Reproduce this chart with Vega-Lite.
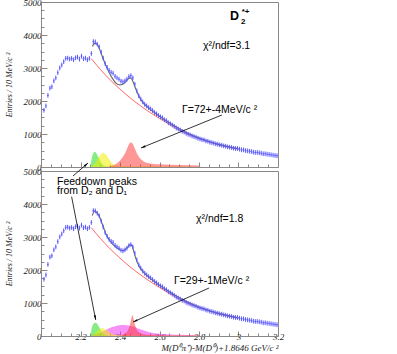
{
  "$schema": "https://vega.github.io/schema/vega-lite/v6.json",
  "background": "white",
  "padding": {"left": 4, "top": -3, "right": 0, "bottom": 0},
  "bounds": "flush",
  "spacing": 4,
  "config": {
    "view": {"stroke": "#888", "strokeWidth": 1},
    "axis": {"grid": false, "labelOverlap": false, "labelFont": "Liberation Serif", "labelFontStyle": "italic", "labelFontSize": 9, "labelColor": "#222", "tickColor": "#888", "domainColor": "#888", "titleFont": "Liberation Serif", "titleFontStyle": "italic", "titleFontWeight": "normal", "titleFontSize": 8, "titleColor": "#222"}
  },
  "datasets": {
    "hist": [
      {"m":2.015,"v":1720},{"m":2.025,"v":1850},{"m":2.035,"v":2170},{"m":2.045,"v":2390},{"m":2.055,"v":2430},{"m":2.065,"v":2610},{"m":2.075,"v":2700},{"m":2.085,"v":2860},{"m":2.095,"v":3000},{"m":2.105,"v":3090},
      {"m":2.115,"v":3190},{"m":2.125,"v":3290},{"m":2.135,"v":3300},{"m":2.145,"v":3270},{"m":2.155,"v":3290},{"m":2.165,"v":3250},{"m":2.175,"v":3310},{"m":2.185,"v":3330},{"m":2.195,"v":3270},{"m":2.205,"v":3360},
      {"m":2.215,"v":3280},{"m":2.225,"v":3300},{"m":2.235,"v":3250},{"m":2.245,"v":3290},{"m":2.255,"v":3440},{"m":2.265,"v":3800},{"m":2.275,"v":3790},{"m":2.285,"v":3720},{"m":2.295,"v":3640},{"m":2.305,"v":3480},
      {"m":2.315,"v":3300},{"m":2.325,"v":3130},{"m":2.335,"v":3020},{"m":2.345,"v":2930},{"m":2.355,"v":2870},{"m":2.365,"v":2840},{"m":2.375,"v":2750},{"m":2.385,"v":2700},{"m":2.395,"v":2660},{"m":2.405,"v":2600},
      {"m":2.415,"v":2580},{"m":2.425,"v":2610},{"m":2.435,"v":2660},{"m":2.445,"v":2740},{"m":2.455,"v":2770},{"m":2.465,"v":2700},{"m":2.475,"v":2510},{"m":2.485,"v":2310},{"m":2.495,"v":2160},{"m":2.505,"v":2060},
      {"m":2.515,"v":1970},{"m":2.525,"v":1900},{"m":2.535,"v":1850},{"m":2.545,"v":1800},{"m":2.555,"v":1760},{"m":2.565,"v":1710},{"m":2.575,"v":1650},{"m":2.585,"v":1610},{"m":2.595,"v":1560},{"m":2.605,"v":1520},
      {"m":2.615,"v":1490},{"m":2.625,"v":1430},{"m":2.635,"v":1400},{"m":2.645,"v":1340},{"m":2.655,"v":1310},{"m":2.665,"v":1270},{"m":2.675,"v":1230},{"m":2.685,"v":1180},{"m":2.695,"v":1150},{"m":2.705,"v":1120},
      {"m":2.715,"v":1080},{"m":2.725,"v":1060},{"m":2.735,"v":1020},{"m":2.745,"v":990},{"m":2.755,"v":970},{"m":2.765,"v":940},{"m":2.775,"v":920},{"m":2.785,"v":900},{"m":2.795,"v":870},{"m":2.805,"v":850},
      {"m":2.815,"v":830},{"m":2.825,"v":820},{"m":2.835,"v":790},{"m":2.845,"v":780},{"m":2.855,"v":750},{"m":2.865,"v":740},{"m":2.875,"v":720},{"m":2.885,"v":700},{"m":2.895,"v":690},{"m":2.905,"v":670},
      {"m":2.915,"v":660},{"m":2.925,"v":640},{"m":2.935,"v":630},{"m":2.945,"v":610},{"m":2.955,"v":600},{"m":2.965,"v":590},{"m":2.975,"v":570},{"m":2.985,"v":560},{"m":2.995,"v":560},{"m":3.005,"v":540},
      {"m":3.015,"v":520},{"m":3.025,"v":520},{"m":3.035,"v":500},{"m":3.045,"v":490},{"m":3.055,"v":480},{"m":3.065,"v":470},{"m":3.075,"v":450},{"m":3.085,"v":440},{"m":3.095,"v":440},{"m":3.105,"v":430},
      {"m":3.115,"v":420},{"m":3.125,"v":400},{"m":3.135,"v":400},{"m":3.145,"v":390},{"m":3.155,"v":380},{"m":3.165,"v":370},{"m":3.175,"v":360},{"m":3.185,"v":350},{"m":3.195,"v":340}
    ],
    "bg": [
      {"m":2.255,"v":3280},{"m":2.3,"v":2960},{"m":2.35,"v":2640},{"m":2.4,"v":2360},{"m":2.45,"v":2100},{"m":2.5,"v":1870},{"m":2.55,"v":1660},{"m":2.6,"v":1470},{"m":2.65,"v":1290},{"m":2.7,"v":1120},{"m":2.75,"v":980},{"m":2.8,"v":860},{"m":2.85,"v":760},{"m":2.9,"v":670},{"m":2.95,"v":600},{"m":3.0,"v":540}
    ],
    "fitTop": [
      {"m":2.26,"v":3650},{"m":2.27,"v":3740},{"m":2.28,"v":3740},{"m":2.29,"v":3660},{"m":2.3,"v":3520},{"m":2.31,"v":3350},{"m":2.32,"v":3200},{"m":2.33,"v":3060},{"m":2.34,"v":2920},{"m":2.35,"v":2800},
      {"m":2.36,"v":2700},{"m":2.37,"v":2610},{"m":2.38,"v":2540},{"m":2.39,"v":2500},{"m":2.4,"v":2490},{"m":2.41,"v":2500},{"m":2.42,"v":2530},{"m":2.43,"v":2590},{"m":2.44,"v":2660},{"m":2.45,"v":2700},
      {"m":2.46,"v":2660},{"m":2.47,"v":2520},{"m":2.48,"v":2360},{"m":2.49,"v":2220},{"m":2.5,"v":2100},{"m":2.52,"v":1930},{"m":2.55,"v":1760},{"m":2.6,"v":1540},{"m":2.65,"v":1340},{"m":2.7,"v":1160},
      {"m":2.75,"v":1010},{"m":2.8,"v":880},{"m":2.85,"v":775},{"m":2.9,"v":685},{"m":2.95,"v":610},{"m":3.0,"v":550}
    ],
    "fitBot": [
      {"m":2.26,"v":3650},{"m":2.27,"v":3780},{"m":2.28,"v":3760},{"m":2.29,"v":3680},{"m":2.3,"v":3560},{"m":2.31,"v":3400},{"m":2.32,"v":3230},{"m":2.33,"v":3080},{"m":2.34,"v":2960},{"m":2.35,"v":2870},
      {"m":2.36,"v":2800},{"m":2.37,"v":2740},{"m":2.38,"v":2690},{"m":2.39,"v":2650},{"m":2.4,"v":2610},{"m":2.41,"v":2590},{"m":2.42,"v":2600},{"m":2.43,"v":2640},{"m":2.44,"v":2700},{"m":2.45,"v":2760},
      {"m":2.46,"v":2740},{"m":2.47,"v":2560},{"m":2.48,"v":2350},{"m":2.49,"v":2200},{"m":2.5,"v":2080},{"m":2.52,"v":1930},{"m":2.55,"v":1760},{"m":2.6,"v":1540},{"m":2.65,"v":1340},{"m":2.7,"v":1160},
      {"m":2.75,"v":1010},{"m":2.8,"v":880},{"m":2.85,"v":775},{"m":2.9,"v":685},{"m":2.95,"v":610},{"m":3.0,"v":550}
    ],
    "peaksTop": [
      {"c":"g","m":2.25,"v":0},{"c":"g","m":2.255,"v":200},{"c":"g","m":2.262,"v":380},{"c":"g","m":2.267,"v":440},{"c":"g","m":2.272,"v":460},{"c":"g","m":2.28,"v":420},{"c":"g","m":2.29,"v":310},{"c":"g","m":2.3,"v":180},{"c":"g","m":2.31,"v":90},{"c":"g","m":2.32,"v":40},{"c":"g","m":2.33,"v":15},{"c":"g","m":2.35,"v":0},
      {"c":"y","m":2.25,"v":0},{"c":"y","m":2.26,"v":40},{"c":"y","m":2.27,"v":90},{"c":"y","m":2.28,"v":170},{"c":"y","m":2.29,"v":270},{"c":"y","m":2.3,"v":360},{"c":"y","m":2.31,"v":420},{"c":"y","m":2.315,"v":430},{"c":"y","m":2.32,"v":420},{"c":"y","m":2.33,"v":370},{"c":"y","m":2.34,"v":280},{"c":"y","m":2.35,"v":190},{"c":"y","m":2.36,"v":120},{"c":"y","m":2.37,"v":70},{"c":"y","m":2.38,"v":45},{"c":"y","m":2.4,"v":30},{"c":"y","m":2.5,"v":20},{"c":"y","m":2.6,"v":15},{"c":"y","m":2.8,"v":10},
      {"c":"r","m":2.33,"v":0},{"c":"r","m":2.35,"v":20},{"c":"r","m":2.37,"v":60},{"c":"r","m":2.39,"v":140},{"c":"r","m":2.41,"v":270},{"c":"r","m":2.43,"v":470},{"c":"r","m":2.445,"v":680},{"c":"r","m":2.455,"v":740},{"c":"r","m":2.465,"v":700},{"c":"r","m":2.475,"v":560},{"c":"r","m":2.49,"v":360},{"c":"r","m":2.51,"v":210},{"c":"r","m":2.53,"v":140},{"c":"r","m":2.56,"v":100},{"c":"r","m":2.6,"v":80},{"c":"r","m":2.7,"v":60},{"c":"r","m":2.8,"v":45}
    ],
    "peaksBot": [
      {"c":"p","m":2.25,"v":0},{"c":"p","m":2.26,"v":30},{"c":"p","m":2.3,"v":100},{"c":"p","m":2.33,"v":190},{"c":"p","m":2.36,"v":270},{"c":"p","m":2.39,"v":320},{"c":"p","m":2.42,"v":330},{"c":"p","m":2.45,"v":310},{"c":"p","m":2.48,"v":260},{"c":"p","m":2.51,"v":190},{"c":"p","m":2.54,"v":130},{"c":"p","m":2.57,"v":90},{"c":"p","m":2.6,"v":65},{"c":"p","m":2.65,"v":45},{"c":"p","m":2.7,"v":35},{"c":"p","m":2.8,"v":25},
      {"c":"g","m":2.25,"v":0},{"c":"g","m":2.255,"v":180},{"c":"g","m":2.262,"v":330},{"c":"g","m":2.27,"v":390},{"c":"g","m":2.277,"v":400},{"c":"g","m":2.285,"v":360},{"c":"g","m":2.295,"v":260},{"c":"g","m":2.305,"v":150},{"c":"g","m":2.315,"v":70},{"c":"g","m":2.325,"v":30},{"c":"g","m":2.34,"v":0},
      {"c":"y","m":2.25,"v":0},{"c":"y","m":2.27,"v":60},{"c":"y","m":2.285,"v":150},{"c":"y","m":2.3,"v":220},{"c":"y","m":2.31,"v":240},{"c":"y","m":2.32,"v":220},{"c":"y","m":2.335,"v":160},{"c":"y","m":2.35,"v":90},{"c":"y","m":2.37,"v":40},{"c":"y","m":2.4,"v":20},{"c":"y","m":2.5,"v":10},{"c":"y","m":2.8,"v":5},
      {"c":"r","m":2.4,"v":0},{"c":"r","m":2.42,"v":60},{"c":"r","m":2.44,"v":170},{"c":"r","m":2.45,"v":330},{"c":"r","m":2.457,"v":520},{"c":"r","m":2.462,"v":640},{"c":"r","m":2.468,"v":540},{"c":"r","m":2.475,"v":360},{"c":"r","m":2.485,"v":190},{"c":"r","m":2.5,"v":100},{"c":"r","m":2.52,"v":55},{"c":"r","m":2.55,"v":35},{"c":"r","m":2.6,"v":25},{"c":"r","m":2.7,"v":15},{"c":"r","m":2.8,"v":10}
    ]
  },
  "vconcat": [
    {
      "width": 237, "height": 165,
      "layer": [
        {
          "encoding": {
            "x": {"field": "m", "type": "quantitative", "scale": {"domain": [2.0, 3.2], "nice": false, "zero": false},
              "axis": {"values": [2.05,2.1,2.15,2.2,2.25,2.3,2.35,2.4,2.45,2.5,2.55,2.6,2.65,2.7,2.75,2.8,2.85,2.9,2.95,3.0,3.05,3.1,3.15], "labels": false, "title": null, "tickSize": {"condition": {"test": "round(datum.value*100) % 20 === 0", "value": -5}, "value": -3}}},
            "y": {"field": "v", "type": "quantitative", "scale": {"domain": [0, 5000], "nice": false},
              "axis": {"values": [0,250,500,750,1000,1250,1500,1750,2000,2250,2500,2750,3000,3250,3500,3750,4000,4250,4500,4750,5000], "format": "d", "labelExpr": "datum.value % 1000 === 0 ? datum.label : ''", "tickSize": {"condition": {"test": "datum.value % 1000 === 0", "value": -6}, "value": -3}, "labelPadding": 6, "title": "Entries / 10 MeV/c \u00b2", "titlePadding": 10}}
          },
          "layer": [
            {"data": {"name": "peaksTop"}, "transform": [{"filter": "datum.c === 'g'"}], "mark": {"type": "area", "color": "#22dd22", "opacity": 0.55, "interpolate": "monotone"}},
            {"data": {"name": "peaksTop"}, "transform": [{"filter": "datum.c === 'y'"}], "mark": {"type": "area", "color": "#eeee00", "opacity": 0.55, "interpolate": "monotone"}},
            {"data": {"name": "peaksTop"}, "transform": [{"filter": "datum.c === 'r'"}], "mark": {"type": "area", "color": "#ff3030", "opacity": 0.5, "interpolate": "monotone"}},
            {"data": {"name": "bg"}, "mark": {"type": "line", "color": "#ff6868", "strokeWidth": 1, "interpolate": "monotone"}},
            {"data": {"name": "fitTop"}, "mark": {"type": "line", "color": "#666", "strokeWidth": 1.1, "interpolate": "monotone"}},
            {"data": {"name": "hist"}, "mark": {"type": "point", "shape": "M-0.35,0H0.35M0,-1V1", "size": 22, "filled": false, "stroke": "#5a5aff", "strokeWidth": 1, "opacity": 1}},
            {"data": {"values": [{"t": "D", "px": 2.957, "py": 4570}]}, "mark": {"type": "text", "align": "left", "baseline": "middle", "font": "Liberation Sans", "fontWeight": "bold", "fontSize": 12.5, "color": "#000"}, "encoding": {"x": {"field": "px"}, "y": {"field": "py"}, "text": {"field": "t"}}},
            {"data": {"values": [{"t": "2", "px": 3.013, "py": 4400}]}, "mark": {"type": "text", "align": "left", "baseline": "middle", "font": "Liberation Sans", "fontWeight": "bold", "fontSize": 8, "color": "#000"}, "encoding": {"x": {"field": "px"}, "y": {"field": "py"}, "text": {"field": "t"}}},
            {"data": {"values": [{"t": "*+", "px": 3.016, "py": 4690}]}, "mark": {"type": "text", "align": "left", "baseline": "middle", "font": "Liberation Sans", "fontWeight": "bold", "fontSize": 8, "color": "#000"}, "encoding": {"x": {"field": "px"}, "y": {"field": "py"}, "text": {"field": "t"}}},
            {"data": {"values": [{"t": "\u03c7\u00b2/ndf=3.1", "px": 2.82, "py": 3652}]}, "mark": {"type": "text", "align": "left", "baseline": "middle", "font": "Liberation Sans", "fontSize": 10.5, "color": "#000"}, "encoding": {"x": {"field": "px"}, "y": {"field": "py"}, "text": {"field": "t"}}},
            {"data": {"values": [{"t": "\u0393=72+-4MeV/c \u00b2", "px": 2.714, "py": 1727}]}, "mark": {"type": "text", "align": "left", "baseline": "middle", "font": "Liberation Sans", "fontSize": 10.5, "color": "#000"}, "encoding": {"x": {"field": "px"}, "y": {"field": "py"}, "text": {"field": "t"}}},
            {"data": {"values": [{"px": 2.916, "py": 1576, "px2": 2.506, "py2": 576}]}, "mark": {"type": "rule", "color": "#000", "strokeWidth": 0.8}, "encoding": {"x": {"field": "px"}, "y": {"field": "py"}, "x2": {"field": "px2"}, "y2": {"field": "py2"}}},
            {"data": {"values": [{"px": 2.506, "py": 576}]}, "mark": {"type": "point", "shape": "M0,0L0.5,2.2L-0.5,2.2Z", "size": 18, "filled": true, "color": "#000", "opacity": 1, "angle": 248}, "encoding": {"x": {"field": "px"}, "y": {"field": "py"}}}
          ]
        }
      ]
    },
    {
      "width": 237, "height": 165,
      "layer": [
        {
          "encoding": {
            "x": {"field": "m", "type": "quantitative", "scale": {"domain": [2.0, 3.2], "nice": false, "zero": false},
              "axis": {"values": [2.05,2.1,2.15,2.2,2.25,2.3,2.35,2.4,2.45,2.5,2.55,2.6,2.65,2.7,2.75,2.8,2.85,2.9,2.95,3.0,3.05,3.1,3.15,3.2], "labelExpr": "round(datum.value*100) % 20 === 0 ? format(datum.value, '~g') : ''", "labelFlush": false, "labelPadding": 1, "tickSize": {"condition": {"test": "round(datum.value*100) % 20 === 0", "value": -5}, "value": -3}, "title": "M(D\u2070\u03c0\u207a)-M(D\u2070)+1.8646 GeV/c \u00b2", "titleAnchor": "end", "titlePadding": 0, "titleFontSize": 9}},
            "y": {"field": "v", "type": "quantitative", "scale": {"domain": [0, 5000], "nice": false},
              "axis": {"values": [0,250,500,750,1000,1250,1500,1750,2000,2250,2500,2750,3000,3250,3500,3750,4000,4250,4500,4750,5000], "format": "d", "labelExpr": "datum.value % 1000 === 0 ? datum.label : ''", "tickSize": {"condition": {"test": "datum.value % 1000 === 0", "value": -6}, "value": -3}, "labelPadding": 6, "title": "Entries / 10 MeV/c \u00b2", "titlePadding": 10}}
          },
          "layer": [
            {"data": {"name": "peaksBot"}, "transform": [{"filter": "datum.c === 'p'"}], "mark": {"type": "area", "color": "#ee22ee", "opacity": 0.5, "interpolate": "monotone"}},
            {"data": {"name": "peaksBot"}, "transform": [{"filter": "datum.c === 'g'"}], "mark": {"type": "area", "color": "#22dd22", "opacity": 0.55, "interpolate": "monotone"}},
            {"data": {"name": "peaksBot"}, "transform": [{"filter": "datum.c === 'y'"}], "mark": {"type": "area", "color": "#eeee00", "opacity": 0.55, "interpolate": "monotone"}},
            {"data": {"name": "peaksBot"}, "transform": [{"filter": "datum.c === 'r'"}], "mark": {"type": "area", "color": "#ff3030", "opacity": 0.5, "interpolate": "monotone"}},
            {"data": {"name": "bg"}, "mark": {"type": "line", "color": "#ff6868", "strokeWidth": 1, "interpolate": "monotone"}},
            {"data": {"name": "fitBot"}, "mark": {"type": "line", "color": "#666", "strokeWidth": 1.1, "interpolate": "monotone"}},
            {"data": {"name": "hist"}, "mark": {"type": "point", "shape": "M-0.35,0H0.35M0,-1V1", "size": 22, "filled": false, "stroke": "#5a5aff", "strokeWidth": 1, "opacity": 1}},
            {"data": {"values": [{"t": "\u03c7\u00b2/ndf=1.8", "px": 2.785, "py": 3545}]}, "mark": {"type": "text", "align": "left", "baseline": "middle", "font": "Liberation Sans", "fontSize": 10.5, "color": "#000"}, "encoding": {"x": {"field": "px"}, "y": {"field": "py"}, "text": {"field": "t"}}},
            {"data": {"values": [{"t": "\u0393=29+-1MeV/c \u00b2", "px": 2.673, "py": 1667}]}, "mark": {"type": "text", "align": "left", "baseline": "middle", "font": "Liberation Sans", "fontSize": 10.5, "color": "#000"}, "encoding": {"x": {"field": "px"}, "y": {"field": "py"}, "text": {"field": "t"}}},
            {"data": {"values": [{"t": "Feeddown peaks", "px": 2.081, "py": 4660}]}, "mark": {"type": "text", "align": "left", "baseline": "middle", "font": "Liberation Sans", "fontSize": 10.5, "color": "#000"}, "encoding": {"x": {"field": "px"}, "y": {"field": "py"}, "text": {"field": "t"}}},
            {"data": {"values": [{"t": "from D\u2082 and D\u2081", "px": 2.081, "py": 4400}]}, "mark": {"type": "text", "align": "left", "baseline": "middle", "font": "Liberation Sans", "fontSize": 10.5, "color": "#000"}, "encoding": {"x": {"field": "px"}, "y": {"field": "py"}, "text": {"field": "t"}}},
            {"data": {"values": [{"px": 2.851, "py": 1455, "px2": 2.466, "py2": 424}, {"px": 2.155, "py": 4221, "px2": 2.277, "py2": 485}, {"px": 2.162, "py": 4848, "px2": 2.238, "py2": 5242}]}, "mark": {"type": "rule", "color": "#000", "strokeWidth": 0.8}, "encoding": {"x": {"field": "px"}, "y": {"field": "py"}, "x2": {"field": "px2"}, "y2": {"field": "py2"}}},
            {"data": {"values": [{"px": 2.466, "py": 424}]}, "mark": {"type": "point", "shape": "M0,0L0.5,2.2L-0.5,2.2Z", "size": 18, "filled": true, "color": "#000", "opacity": 1, "angle": 246}, "encoding": {"x": {"field": "px"}, "y": {"field": "py"}}},
            {"data": {"values": [{"px": 2.277, "py": 485}]}, "mark": {"type": "point", "shape": "M0,0L0.5,2.2L-0.5,2.2Z", "size": 18, "filled": true, "color": "#000", "opacity": 1, "angle": 169}, "encoding": {"x": {"field": "px"}, "y": {"field": "py"}}},
            {"data": {"values": [{"px": 2.238, "py": 5242}]}, "mark": {"type": "point", "shape": "M0,0L0.5,2.2L-0.5,2.2Z", "size": 18, "filled": true, "color": "#000", "opacity": 1, "angle": 49}, "encoding": {"x": {"field": "px"}, "y": {"field": "py"}}}
          ]
        }
      ]
    }
  ]
}
